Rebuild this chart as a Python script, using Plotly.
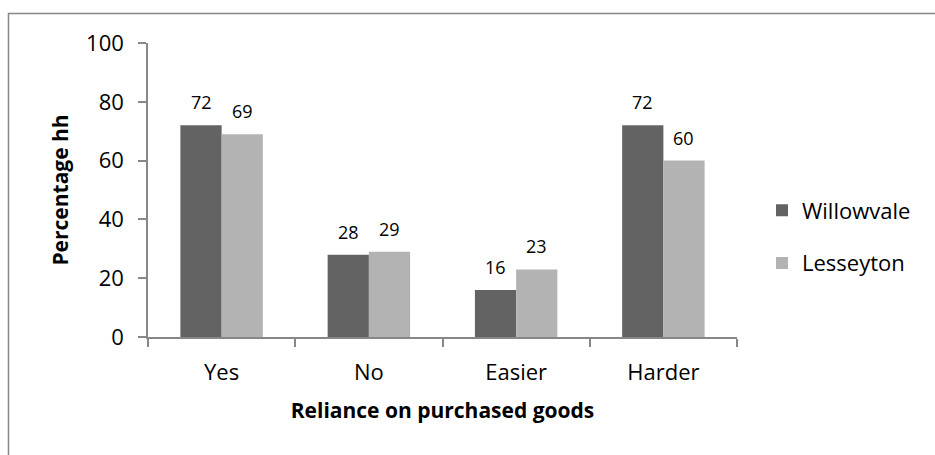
import plotly.graph_objects as go

# Reliance on purchased goods, percentage of households per village
categories = ["Yes", "No", "Easier", "Harder"]
willowvale = [72, 28, 16, 72]
lesseyton = [69, 29, 23, 60]
series_names = ["Willowvale", "Lesseyton"]
y_ticks = [0, 20, 40, 60, 80, 100]

W, H = 935, 455
L, R, T, B = 148, 198, 43, 118
PW, PH = W - L - R, H - T - B

FONT = "Open Sans"
DARK = "#636363"
LIGHT = "#b3b3b3"
AXIS = "#878787"

fig = go.Figure()
fig.add_trace(go.Bar(x=categories, y=willowvale, name=series_names[0],
                     marker=dict(color=DARK, line=dict(width=0)),
                     legendgroup="a"))
fig.add_trace(go.Bar(x=categories, y=lesseyton, name=series_names[1],
                     marker=dict(color=LIGHT, line=dict(width=0)),
                     legendgroup="b"))

# value labels above each bar, shifted to the bar's slot within the group
bar_px = PW / len(categories) * (1 - 0.44) / 2
for vals, shift in ((willowvale, -bar_px / 2), (lesseyton, bar_px / 2)):
    for c, v in zip(categories, vals):
        fig.add_annotation(x=c, y=v, text=str(v), showarrow=False,
                           xshift=shift, yshift=23, yanchor="middle",
                           font=dict(family=FONT, size=18, color="#000"))

# outer chart border (runs off the right and bottom edges)
def px_x(p):
    return (p - L) / PW

def px_y(p):
    return (T + PH - p) / PH

fig.add_shape(type="rect", xref="paper", yref="paper",
              x0=px_x(8.5), x1=px_x(960), y0=px_y(480), y1=px_y(13.5),
              line=dict(color=AXIS, width=1.5), fillcolor="rgba(0,0,0,0)")

fig.update_layout(
    width=W, height=H,
    margin=dict(l=L, r=R, t=T, b=B, autoexpand=False),
    paper_bgcolor="white", plot_bgcolor="white",
    barmode="group", bargap=0.44, bargroupgap=0,
    font=dict(family=FONT, color="#000"),
    legend=dict(x=px_x(762), xanchor="left", y=px_y(237), yanchor="middle",
                font=dict(family=FONT, size=22), tracegroupgap=21,
                itemwidth=30, bgcolor="rgba(0,0,0,0)"),
    xaxis=dict(
        showline=True, linecolor=AXIS, linewidth=1.5,
        ticks="outside", tickson="boundaries", ticklen=8, tickcolor=AXIS,
        tickwidth=1.5, tickfont=dict(family=FONT, size=22),
        ticklabelstandoff=15,
        title=dict(text="<b>Reliance on purchased goods</b>",
                   font=dict(family=FONT, size=21), standoff=18),
    ),
    yaxis=dict(
        range=[0, 100], tickvals=y_ticks, showgrid=False, zeroline=False,
        showline=True, linecolor=AXIS, linewidth=1.5,
        ticks="outside", ticklen=8, tickcolor=AXIS, tickwidth=1.5,
        tickfont=dict(family=FONT, size=22), ticklabelstandoff=10,
        title=dict(text="<b>Percentage hh</b>",
                   font=dict(family=FONT, size=21), standoff=12),
    ),
)

fig.write_html("out.html")
